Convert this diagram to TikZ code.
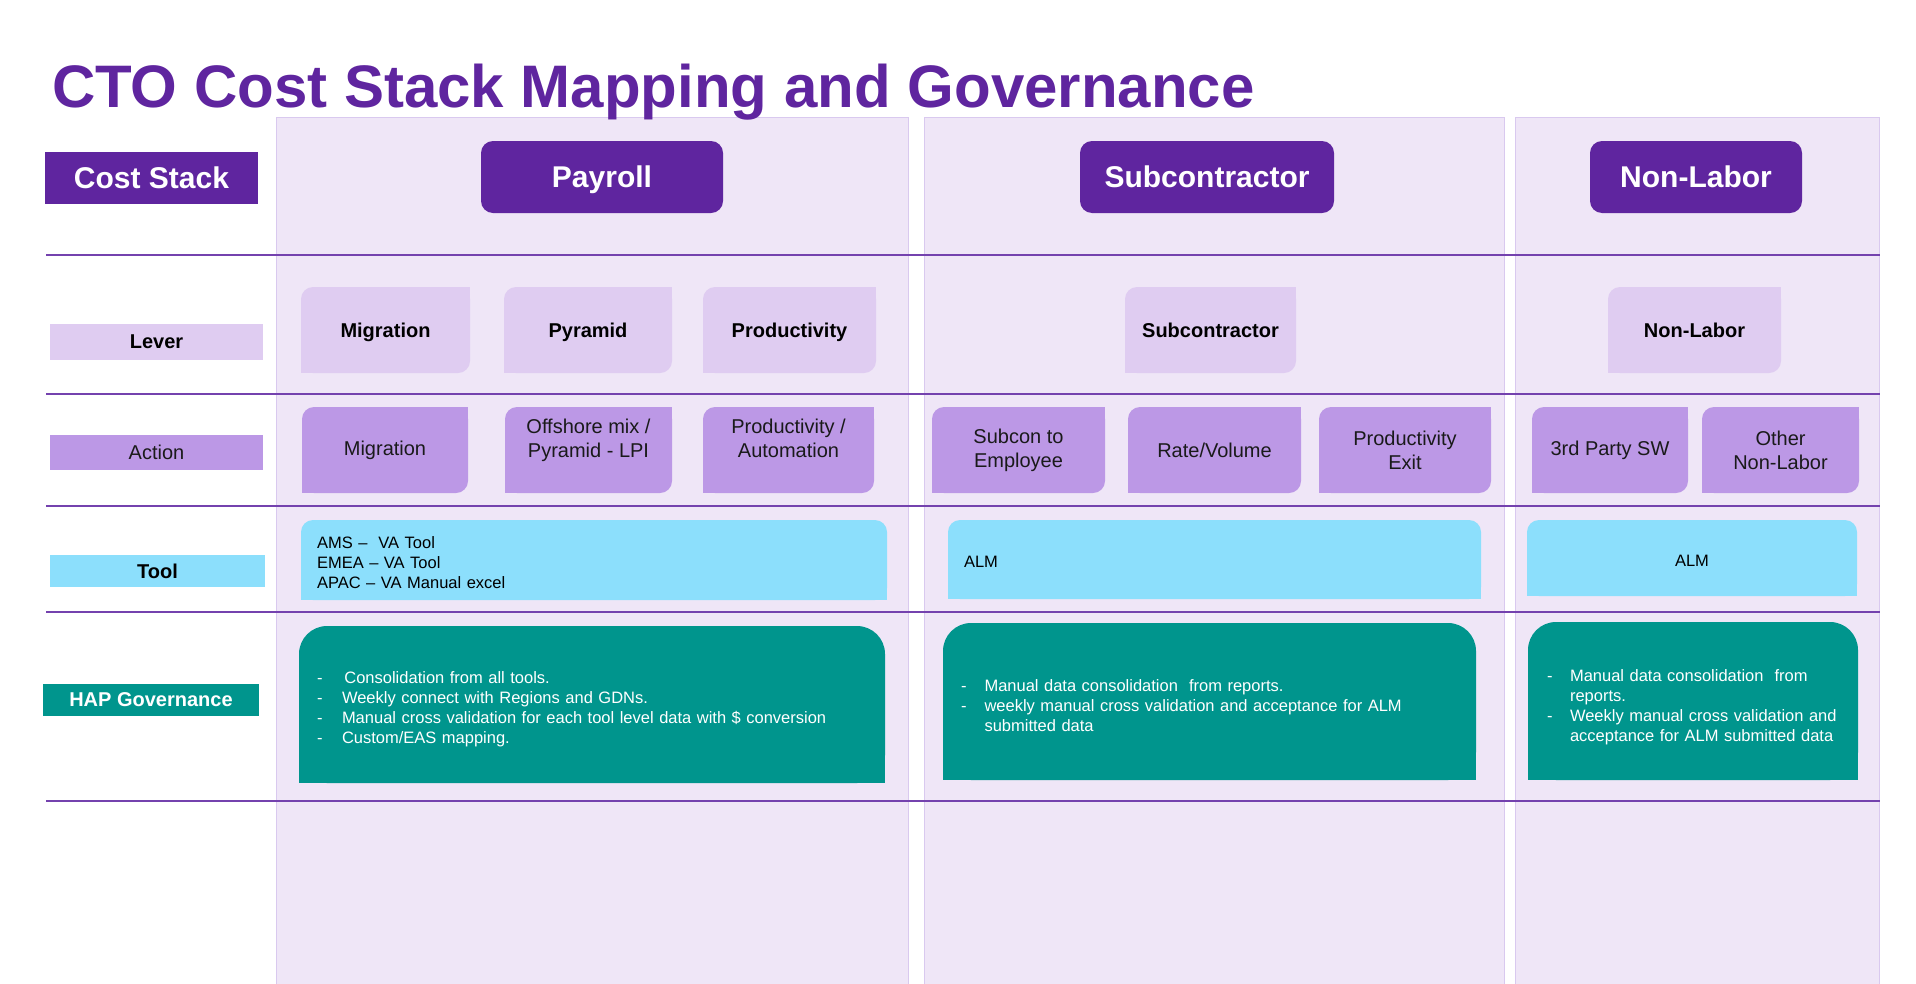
\documentclass[tikz,border=0pt]{standalone}
\usepackage{fontspec}
\setmainfont{Liberation Sans}
\definecolor{dpurple}{HTML}{5F259F}
\definecolor{lavbg}{HTML}{EFE6F7}
\definecolor{colborder}{HTML}{D9C9EF}
\definecolor{linepurple}{HTML}{7442AE}
\definecolor{leverfill}{HTML}{DFCCF1}
\definecolor{actfill}{HTML}{BC98E6}
\definecolor{toolfill}{HTML}{8CDFFC}
\definecolor{tealfill}{HTML}{00958D}
\definecolor{txtdark}{HTML}{1A1A1A}
\pgfdeclarelayer{bg}
\pgfdeclarelayer{mid}
\pgfsetlayers{bg,mid,main}
\newcommand\fsz[2]{\fontsize{#1}{#2}\selectfont}
% name, x1, y1, x2, y2, style, text
\newcommand\bx[7]{\node[#6, minimum width={(#4)-(#2)}, minimum height={(#5)-(#3)}] (#1) at ({((#2)+(#4))/2},{((#3)+(#5))/2}) {#7};}
% rounded top-left and bottom-right
\newcommand\diagfill[3]{%
  \begin{pgfonlayer}{mid}
  \fill[#3, rounded corners=#2pt] (#1.north west) rectangle (#1.south east);
  \fill[#3] (#1.north east) rectangle ([xshift=-#2pt,yshift=-#2pt]#1.north east);
  \fill[#3] (#1.south west) rectangle ([xshift=#2pt,yshift=#2pt]#1.south west);
  \end{pgfonlayer}}
% rounded top corners only
\newcommand\topfill[3]{%
  \begin{pgfonlayer}{mid}
  \fill[#3, rounded corners=#2pt] (#1.north west) rectangle (#1.south east);
  \fill[#3] ([yshift=#2pt]#1.south west) rectangle (#1.south east);
  \end{pgfonlayer}}
\newcommand\dsh[1]{\makebox[#1][l]{-}}
\begin{document}
\begin{tikzpicture}[x=1pt,y=-1pt,
  every node/.style={inner sep=0pt, outer sep=0pt},
  ttl/.style={anchor=base west, text=dpurple, font=\fsz{60}{72}\bfseries},
  hdrbox/.style={fill=dpurple, rounded corners=12pt, text=white, font=\fsz{30}{36}\bfseries, text height=21.5pt, text depth=0pt},
  sidecost/.style={fill=dpurple, text=white, font=\fsz{30}{36}\bfseries},
  sidelever/.style={fill=leverfill, text=black, font=\fsz{20}{24}\bfseries},
  sideact/.style={fill=actfill, text=txtdark, font=\fsz{20}{24}},
  sidetool/.style={fill=toolfill, text=black, font=\fsz{20}{24}\bfseries},
  sidehap/.style={fill=tealfill, text=white, font=\fsz{20}{24}\bfseries},
  lvtext/.style={font=\fsz{20}{24}\bfseries, text=black, text height=14.5pt, text depth=0pt},
  actext/.style={font=\fsz{20}{24}, text=txtdark, align=center},
  tooltext/.style={font=\fsz{16.5}{20}, text=black, align=left},
  haptext/.style={font=\fsz{16.5}{20}, text=white, align=left},
  hline/.style={draw=linepurple, line width=1.5pt},
  colbg/.style={fill=lavbg, draw=colborder, line width=1pt},
]
\useasboundingbox (0,0) rectangle (1916,983);

% column backgrounds and row lines
\begin{pgfonlayer}{bg}
  \filldraw[colbg] (276,117) rectangle (908,990);
  \filldraw[colbg] (924,117) rectangle (1504,990);
  \filldraw[colbg] (1515,117) rectangle (1879,990);
  \foreach \yy in {255,394,506,612,801}
    \draw[hline] (46,\yy) -- (1880,\yy);
\end{pgfonlayer}

% title
\node[ttl] (title) at (52,107) {CTO Cost Stack Mapping and Governance};

% left row labels
\bx{costlbl}{45}{152}{258}{204}{sidecost}{Cost Stack}
\bx{leverlbl}{50}{324}{263}{360}{sidelever}{Lever}
\bx{actlbl}{50}{435}{263}{470}{sideact}{Action}
\bx{toollbl}{50}{555}{265}{587}{sidetool}{Tool}
\bx{haplbl}{43}{684}{259}{716}{sidehap}{HAP Governance}

% column headers
\bx{payroll}{481}{141}{723}{213}{hdrbox}{Payroll}
\bx{subcon}{1080}{141}{1334}{213}{hdrbox}{Subcontractor}
\bx{nonlabor}{1590}{141}{1802}{213}{hdrbox}{Non-Labor}

% lever boxes
\bx{lv1}{301}{287}{470}{373}{lvtext}{Migration}
\bx{lv2}{504}{287}{672}{373}{lvtext}{Pyramid}
\bx{lv3}{703}{287}{876}{373}{lvtext}{Productivity}
\bx{lv4}{1125}{287}{1296}{373}{lvtext}{Subcontractor}
\bx{lv5}{1608}{287}{1781}{373}{lvtext}{Non-Labor}
\foreach \n in {lv1,lv2,lv3,lv4,lv5}{\diagfill{\n}{12}{leverfill}}

% action boxes
\bx{ac1}{302}{407}{468}{493}{actext}{Migration}
\bx{ac2}{505}{407}{672}{493}{actext}{Offshore mix /\\Pyramid - LPI\rule[-24.5pt]{0pt}{0pt}}
\bx{ac3}{703}{407}{874}{493}{actext}{Productivity /\\Automation\rule[-24.5pt]{0pt}{0pt}}
\bx{ac4}{932}{407}{1105}{493}{actext}{Subcon to\\Employee}
\bx{ac5}{1128}{407}{1301}{493}{actext}{Rate/Volume}
\bx{ac6}{1319}{407}{1491}{493}{actext}{Productivity\\Exit}
\bx{ac7}{1532}{407}{1688}{493}{actext}{3rd Party SW}
\bx{ac8}{1702}{407}{1859}{493}{actext}{Other\\Non-Labor}
\foreach \n in {ac1,ac2,ac3,ac4,ac5,ac6,ac7,ac8}{\diagfill{\n}{12}{actfill}}

% tool boxes
\bx{tool1}{301}{520}{887}{600}{tooltext, inner xsep=16pt, text width=554pt}{\rule{0pt}{17pt}AMS –\ \ VA Tool\\EMEA – VA Tool\\APAC – VA Manual excel}
\bx{tool2}{948}{520}{1481}{599}{tooltext, inner xsep=16pt, text width=501pt}{\rule{0pt}{16pt}ALM}
\bx{tool3}{1527}{520}{1857}{596}{tooltext, align=center}{\rule{0pt}{17pt}ALM}
\foreach \n in {tool1,tool2,tool3}{\topfill{\n}{12}{toolfill}}

% HAP governance boxes
\bx{hap1}{299}{626}{885}{783}{haptext, inner xsep=18pt, text width=550pt}{%
\rule{0pt}{21.5pt}\dsh{27.4pt}Consolidation from all tools.\\
\dsh{25pt}Weekly connect with Regions and GDNs.\\
\dsh{25pt}Manual cross validation for each tool level data with \$ conversion\\
\dsh{25pt}Custom/EAS mapping.}
\bx{hap2}{943}{623}{1476}{780}{haptext, inner xsep=18pt, text width=497pt}{%
\rule{0pt}{20pt}\dsh{23.5pt}Manual data consolidation\ \ from reports.\\
\dsh{23.5pt}weekly manual cross validation and acceptance for ALM\\
\hspace*{23.5pt}submitted data}
\bx{hap3}{1528}{622}{1858}{780}{haptext, inner xsep=19pt, text width=292pt}{%
\rule{0pt}{24pt}\dsh{23pt}Manual data consolidation\ \ from\\
\hspace*{23pt}reports.\\
\dsh{23pt}Weekly manual cross validation and\\
\hspace*{23pt}acceptance for ALM submitted data}
\foreach \n in {hap1,hap2,hap3}{\topfill{\n}{28}{tealfill}}
\end{tikzpicture}
\end{document}
